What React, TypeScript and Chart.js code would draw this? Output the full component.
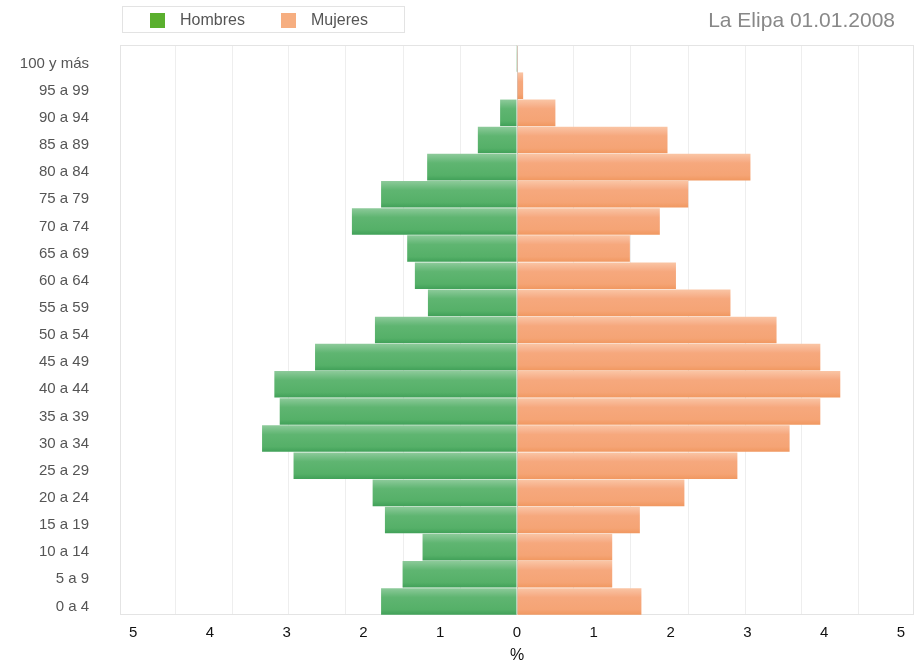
import React, { useEffect, useRef } from "react";
import { Chart, registerables } from "chart.js";

Chart.register(...registerables);

const AGE_GROUPS = [
  "100 y más", "95 a 99", "90 a 94", "85 a 89", "80 a 84", "75 a 79", "70 a 74",
  "65 a 69", "60 a 64", "55 a 59", "50 a 54", "45 a 49", "40 a 44", "35 a 39",
  "30 a 34", "25 a 29", "20 a 24", "15 a 19", "10 a 14", "5 a 9", "0 a 4",
];
// percentages (men shown on the left as negative values)
const HOMBRES = [
  0.01, 0.0, 0.22, 0.51, 1.17, 1.77, 2.15, 1.43, 1.33, 1.16, 1.85, 2.63, 3.16, 3.09,
  3.32, 2.91, 1.88, 1.72, 1.23, 1.49, 1.77,
];
const MUJERES = [
  0.01, 0.08, 0.5, 1.96, 3.04, 2.23, 1.86, 1.47, 2.07, 2.78, 3.38, 3.95, 4.21, 3.95,
  3.55, 2.87, 2.18, 1.6, 1.24, 1.24, 1.62,
];
const X_TICK_LABELS = [-5, -4, -3, -2, -1, 0, 1, 2, 3, 4, 5];
const GRID_LINES = [-4.45, -3.71, -2.97, -2.23, -1.48, -0.74, 0.74, 1.48, 2.23, 2.97, 3.71, 4.45];

const X_MIN = -5.17;
const X_MAX = 5.17;

function barGradient(ctx: any, stops: [number, string][]) {
  const chart = ctx.chart;
  const area = chart.chartArea;
  if (!area) return stops[1][1];
  const yScale = chart.scales.y;
  const yc = yScale.getPixelForValue(ctx.dataIndex);
  const h = (area.bottom - area.top) / AGE_GROUPS.length;
  const g = chart.ctx.createLinearGradient(0, yc - h / 2, 0, yc + h / 2);
  stops.forEach(([p, c]) => g.addColorStop(p, c));
  return g;
}

const frame = {
  id: "frame",
  beforeDatasetsDraw(chart: any) {
    const { ctx, chartArea: a } = chart;
    ctx.save();
    ctx.strokeStyle = "#e4e4e4";
    ctx.lineWidth = 1;
    ctx.strokeRect(a.left + 0.5, a.top + 0.5, a.right - a.left - 1, a.bottom - a.top - 1);
    ctx.restore();
  },
};

export default function App() {
  const ref = useRef<HTMLCanvasElement | null>(null);

  useEffect(() => {
    document.body.style.margin = "0";
    const canvas = ref.current;
    if (!canvas) return;
    const chart = new Chart(canvas, {
      type: "bar",
      data: {
        labels: AGE_GROUPS,
        datasets: [
          {
            label: "Hombres",
            data: HOMBRES.map((v) => -v),
            backgroundColor: (c: any) =>
              barGradient(c, [
                [0, "#8fcb9c"],
                [0.25, "#6cbb7d"],
                [0.35, "#5fb571"],
                [0.8, "#55b068"],
                [1, "#3f9f57"],
              ]),
            borderWidth: 0,
            barPercentage: 0.98,
            categoryPercentage: 1,
          },
          {
            label: "Mujeres",
            data: MUJERES,
            backgroundColor: (c: any) =>
              barGradient(c, [
                [0, "#fac6a6"],
                [0.25, "#f7b08a"],
                [0.35, "#f6a87d"],
                [0.8, "#f5a475"],
                [1, "#f0975f"],
              ]),
            borderWidth: 0,
            barPercentage: 0.98,
            categoryPercentage: 1,
          },
        ],
      },
      options: {
        indexAxis: "y",
        animation: false,
        responsive: false,
        maintainAspectRatio: false,
        layout: { padding: { top: 45, right: 6, left: 0, bottom: 0 } },
        plugins: {
          legend: { display: false },
          tooltip: { enabled: false },
        },
        scales: {
          x: {
            stacked: true,
            min: X_MIN,
            max: X_MAX,
            afterBuildTicks: (scale: any) => {
              const vals = [...X_TICK_LABELS, ...GRID_LINES].sort((a, b) => a - b);
              scale.ticks = vals.map((v) => ({ value: v }));
            },
            afterFit: (scale: any) => {
              scale.height = 46;
            },
            ticks: {
              autoSkip: false,
              maxRotation: 0,
              padding: 9,
              color: "#111",
              font: { family: "'Liberation Sans', Arial, sans-serif", size: 15 },
              callback: (v: any) => (X_TICK_LABELS.includes(v) ? String(Math.abs(v)) : ""),
            },
            grid: {
              drawTicks: false,
              color: (c: any) => {
                const v = c.tick ? c.tick.value : null;
                if (v === 0) return "#c8c8c8";
                return GRID_LINES.includes(v) ? "#eeeeee" : "rgba(0,0,0,0)";
              },
              lineWidth: 1,
            },
            border: { display: false },
            title: {
              display: true,
              text: "%",
              color: "#111",
              font: { family: "'Liberation Sans', Arial, sans-serif", size: 16 },
              padding: { top: 2, bottom: -4 },
            },
          },
          y: {
            stacked: true,
            afterFit: (scale: any) => {
              scale.width = 120;
            },
            ticks: {
              padding: 31,
              labelOffset: 5,
              color: "#555",
              autoSkip: false,
              font: { family: "'Liberation Sans', Arial, sans-serif", size: 15 },
            },
            grid: { display: false, drawTicks: false },
            border: { display: false },
          },
        },
      },
      plugins: [frame],
    });
    return () => chart.destroy();
  }, []);

  const font = "'Liberation Sans', Arial, sans-serif";
  return (
    <div style={{ position: "relative", width: 920, height: 661, overflow: "hidden", background: "#fff", fontFamily: font }}>
      <canvas ref={ref} width={920} height={661} style={{ position: "absolute", left: 0, top: 0 }} />
      <div
        style={{
          position: "absolute",
          left: 122,
          top: 6,
          width: 283,
          height: 27,
          border: "1px solid #e3e3e3",
          boxSizing: "border-box",
        }}
      >
        <span style={{ position: "absolute", left: 27, top: 6, width: 15, height: 15, background: "#5aaf2e" }} />
        <span style={{ position: "absolute", left: 57, top: 4, fontSize: 16, color: "#555" }}>Hombres</span>
        <span style={{ position: "absolute", left: 158, top: 6, width: 15, height: 15, background: "#f6ae80" }} />
        <span style={{ position: "absolute", left: 188, top: 4, fontSize: 16, color: "#555" }}>Mujeres</span>
      </div>
      <div
        style={{
          position: "absolute",
          right: 25,
          top: 8,
          fontSize: 21,
          color: "#888",
          whiteSpace: "nowrap",
        }}
      >
        La Elipa 01.01.2008
      </div>
    </div>
  );
}
